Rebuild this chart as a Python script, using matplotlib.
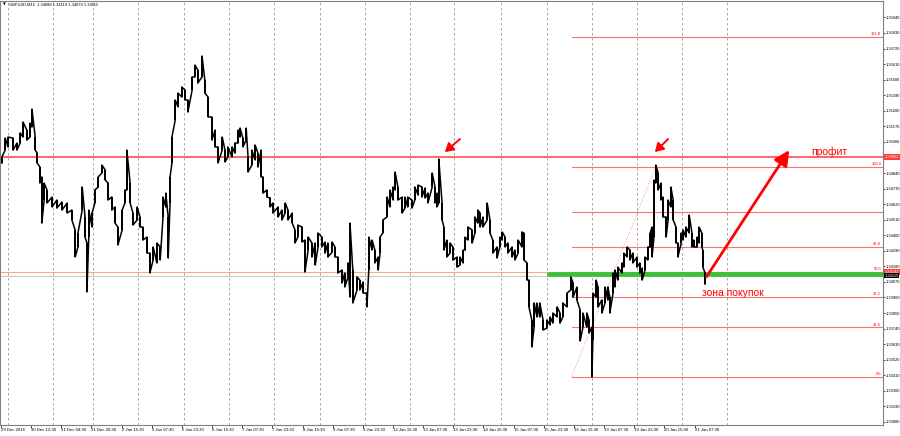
import numpy as np
import matplotlib
matplotlib.use("Agg")
import matplotlib.pyplot as plt
from matplotlib.transforms import blended_transform_factory

# ---- price path (M15 bar index, high, low) ----
bar = [4, 11, 17, 28, 36, 43, 49, 57, 64, 68,
       75, 79, 85, 89, 94, 100, 111, 121, 132, 143,
       153, 160, 166, 175, 181, 185, 189, 196, 202, 209,
       217, 224, 230, 238, 245, 251, 260, 266, 270, 277,
       283, 292, 298, 304, 313, 319, 326, 334, 341, 347,
       353, 358, 362, 366, 373, 379, 387, 394, 400, 409,
       415, 421, 430, 436, 443, 451, 458, 464, 473, 479,
       485, 494, 500, 507, 511, 517, 524, 528, 536, 543,
       549, 556, 560, 568, 575, 581, 592, 600, 607, 613,
       622, 628, 634, 643, 649, 656, 664, 671, 677, 685,
       692, 698, 707, 713, 719, 728, 734, 741, 745, 751,
       760, 766, 773, 781, 785, 792, 798, 805, 809, 815,
       824, 830, 837, 841, 847, 856, 862, 868, 877, 883,
       890, 898, 905, 911, 920, 926, 930, 934, 941, 945,
       951, 958, 964, 973, 979, 986, 990, 996, 1005, 1011,
       1017, 1022, 1028, 1037, 1043, 1049, 1058, 1064, 1069, 1075,
       1081, 1090, 1096, 1103, 1111, 1115, 1122, 1126, 1132, 1137,
       1143, 1149, 1156, 1164, 1171, 1177, 1186, 1192, 1198, 1207,
       1215, 1220, 1228, 1235, 1241, 1249, 1254, 1260, 1262, 1269,
       1273, 1281, 1288, 1294, 1298, 1305, 1309, 1315, 1324, 1328,
       1335, 1341, 1347, 1356, 1362, 1367, 1373, 1379, 1384, 1388,
       1392, 1396, 1401, 1407, 1411, 1418, 1422, 1428, 1433, 1439,
       1443, 1450, 1454, 1460, 1467, 1473, 1477, 1484, 1488, 1494,
       1496, 1501]

high = [1.34953, 1.35087, 1.35094, 1.35087, 1.35052, 1.35123, 1.35200, 1.35144, 1.35193, 1.35292,
        1.35094, 1.34981, 1.34882, 1.34812, 1.34769, 1.34720, 1.34670, 1.34649, 1.34635, 1.34628,
        1.34578, 1.34437, 1.34416, 1.34741, 1.34529, 1.34345, 1.34578, 1.34557, 1.34720, 1.34812,
        1.34896, 1.34861, 1.34769, 1.34670, 1.34600, 1.34458, 1.34578, 1.34720, 1.35002, 1.34769,
        1.34557, 1.34600, 1.34529, 1.34458, 1.34387, 1.34274, 1.34317, 1.34345, 1.34317, 1.34670,
        1.34698, 1.34529, 1.34812, 1.35094, 1.35356, 1.35405, 1.35448, 1.35427, 1.35356, 1.35519,
        1.35603, 1.35568, 1.35667, 1.35497, 1.35377, 1.35236, 1.35144, 1.35024, 1.35094, 1.35002,
        1.35024, 1.35024, 1.35052, 1.35144, 1.35158, 1.35087, 1.35158, 1.34953, 1.35002, 1.35038,
        1.34981, 1.35002, 1.34812, 1.34720, 1.34663, 1.34628, 1.34600, 1.34578, 1.34628, 1.34578,
        1.34557, 1.34437, 1.34472, 1.34458, 1.34366, 1.34387, 1.34345, 1.34345, 1.34416, 1.34387,
        1.34352, 1.34345, 1.34352, 1.34317, 1.34246, 1.34154, 1.34133, 1.34204, 1.34486, 1.34154,
        1.34105, 1.34083, 1.34069, 1.33991, 1.34387, 1.34366, 1.34295, 1.34246, 1.34387, 1.34508,
        1.34670, 1.34720, 1.34741, 1.34847, 1.34741, 1.34670, 1.34670, 1.34670, 1.34649, 1.34741,
        1.34755, 1.34741, 1.34734, 1.34698, 1.34840, 1.34741, 1.34698, 1.34939, 1.34628, 1.34458,
        1.34366, 1.34345, 1.34317, 1.34246, 1.34246, 1.34295, 1.34387, 1.34458, 1.34437, 1.34529,
        1.34578, 1.34557, 1.34529, 1.34628, 1.34508, 1.34366, 1.34317, 1.34387, 1.34423, 1.34387,
        1.34345, 1.34317, 1.34295, 1.34366, 1.34423, 1.34416, 1.34204, 1.34083, 1.33801, 1.33921,
        1.33921, 1.33921, 1.33801, 1.33801, 1.33822, 1.33850, 1.33893, 1.33850, 1.33921, 1.33991,
        1.34105, 1.34062, 1.34034, 1.33871, 1.33850, 1.33850, 1.33801, 1.33751, 1.33991, 1.34083,
        1.34034, 1.33942, 1.34034, 1.34034, 1.33963, 1.34133, 1.34154, 1.34175, 1.34204, 1.34274,
        1.34317, 1.34295, 1.34274, 1.34246, 1.34204, 1.34168, 1.34246, 1.34317, 1.34416, 1.34458,
        1.34790, 1.34896, 1.34840, 1.34769, 1.34670, 1.34529, 1.34649, 1.34741, 1.34649, 1.34458,
        1.34345, 1.34416, 1.34437, 1.34458, 1.34543, 1.34416, 1.34366, 1.34387, 1.34458, 1.34416,
        1.34295, 1.34133]

low = [1.34911, 1.35002, 1.35024, 1.35002, 1.35002, 1.35052, 1.35094, 1.35073, 1.35094, 1.35165,
       1.35002, 1.34911, 1.34769, 1.34486, 1.34649, 1.34628, 1.34600, 1.34592, 1.34578, 1.34557,
       1.34508, 1.34246, 1.34317, 1.34578, 1.34387, 1.33999, 1.34387, 1.34458, 1.34628, 1.34741,
       1.34840, 1.34790, 1.34649, 1.34578, 1.34486, 1.34331, 1.34437, 1.34628, 1.34720, 1.34628,
       1.34472, 1.34508, 1.34458, 1.34366, 1.34274, 1.34133, 1.34225, 1.34204, 1.34225, 1.34529,
       1.34600, 1.34239, 1.34628, 1.34911, 1.35215, 1.35307, 1.35377, 1.35356, 1.35271, 1.35427,
       1.35519, 1.35476, 1.35519, 1.35405, 1.35236, 1.35073, 1.35024, 1.34911, 1.35002, 1.34918,
       1.34953, 1.34953, 1.34981, 1.35052, 1.35094, 1.35024, 1.35073, 1.34847, 1.34896, 1.34932,
       1.34882, 1.34812, 1.34698, 1.34670, 1.34600, 1.34557, 1.34529, 1.34508, 1.34557, 1.34508,
       1.34486, 1.34345, 1.34387, 1.34352, 1.34140, 1.34295, 1.34246, 1.34189, 1.34317, 1.34317,
       1.34274, 1.34246, 1.34281, 1.34246, 1.34133, 1.34062, 1.34034, 1.34105, 1.33963, 1.33921,
       1.34013, 1.34013, 1.33991, 1.33893, 1.34154, 1.34295, 1.34204, 1.34154, 1.34274, 1.34416,
       1.34529, 1.34600, 1.34649, 1.34720, 1.34649, 1.34557, 1.34592, 1.34600, 1.34592, 1.34649,
       1.34684, 1.34670, 1.34663, 1.34628, 1.34741, 1.34628, 1.34600, 1.34628, 1.34508, 1.34295,
       1.34246, 1.34274, 1.34225, 1.34175, 1.34189, 1.34204, 1.34295, 1.34366, 1.34345, 1.34416,
       1.34486, 1.34458, 1.34458, 1.34508, 1.34416, 1.34274, 1.34239, 1.34317, 1.34366, 1.34317,
       1.34274, 1.34246, 1.34225, 1.34274, 1.34317, 1.34225, 1.34083, 1.33893, 1.33610, 1.33751,
       1.33822, 1.33822, 1.33730, 1.33744, 1.33765, 1.33779, 1.33822, 1.33779, 1.33822, 1.33893,
       1.34013, 1.33963, 1.33942, 1.33652, 1.33751, 1.33751, 1.33709, 1.33398, 1.33659, 1.33963,
       1.33893, 1.33850, 1.33921, 1.33942, 1.33850, 1.33991, 1.34034, 1.34083, 1.34133, 1.34175,
       1.34246, 1.34225, 1.34204, 1.34175, 1.34133, 1.34083, 1.34154, 1.34225, 1.34317, 1.34246,
       1.34387, 1.34769, 1.34720, 1.34649, 1.34529, 1.34387, 1.34508, 1.34600, 1.34508, 1.34345,
       1.34246, 1.34345, 1.34366, 1.34387, 1.34416, 1.34317, 1.34317, 1.34317, 1.34345, 1.34317,
       1.34175, 1.34055]

# ---- axes annotations ----
day_separators = [17, 113, 198, 294, 392, 487, 583, 681, 777, 873, 966,
                  1066, 1164, 1260, 1356, 1452, 1547]
time_labels = ["29 Dec 2016", "30 Dec 12:30", "31 Dec 04:30", "31 Dec 20:30",
               "2 Jan 15:30", "5 Jan 07:30", "5 Jan 23:30", "6 Jan 15:30",
               "7 Jan 07:30", "7 Jan 23:30", "8 Jan 15:30", "9 Jan 07:30",
               "9 Jan 23:30", "12 Jan 15:30", "13 Jan 07:30", "13 Jan 23:30",
               "14 Jan 15:30", "15 Jan 07:30", "15 Jan 23:30", "16 Jan 15:30",
               "19 Jan 07:30", "19 Jan 23:30", "20 Jan 15:30", "21 Jan 07:30"]
price_ticks = [1.33080, 1.33190, 1.33300, 1.33410, 1.33520, 1.33630, 1.33740,
               1.33850, 1.33960, 1.34070, 1.34180, 1.34290, 1.34400, 1.34510,
               1.34620, 1.34730, 1.34840, 1.34950, 1.35060, 1.35170, 1.35280,
               1.35390, 1.35500, 1.35610, 1.35720, 1.35830, 1.35940]

title_text = "GBPUSD,M15  1.34088 1.34119 1.34079 1.34115"

# horizontal levels
resistance = 1.34952
ask_price = 1.34142
bid_price = 1.34115
buy_zone = 1.34127
buy_zone_start = 1164

# Fibonacci
fib_bars = [1217, 1396]
fib_prices = [1.33400, 1.34884]
fib_levels = [0.0, 23.6, 38.2, 50.0, 61.8, 78.6, 100.0, 161.8]
fib_texts = ["0.0", "23.6", "38.2", "50.0", "61.8", "", "100.0", "161.8"]

# arrows (tail -> tip) and texts
big_arrow = [(1504, 1.34107), (1680, 1.35002)]
small_arrows = [[(979, 1.35080), (947, 1.34988)],
                [(1422, 1.35080), (1394, 1.34988)]]
profit_pos = (1726, 1.34990)
zone_pos = (1494, 1.33989)

# ---------------- drawing ----------------
SMALL = ["Liberation Sans", "DejaVu Sans"]
W, H = 900, 436
fig = plt.figure(figsize=(W / 100, H / 100), dpi=100, facecolor="white")
ax = fig.add_axes([0.0, 1 - 424.5 / H, 883 / W, 423.5 / H])
ax.set_facecolor("white")
XMAX = 1879.6
ax.set_xlim(0, XMAX)
ax.set_ylim(1.33062, 1.36056)

RED = "#ff0000"
FIBC = "#ff7070"

for s in day_separators:
    ax.axvline(s, color="#999999", lw=0.6, ls=(0, (3, 3)), zorder=1)

ax.axhline(resistance, color="#ff3c3c", lw=1.1, zorder=2)
ax.axhline(ask_price, color="#ffa585", lw=0.8, zorder=2)
ax.axhline(bid_price, color="#c8c8c8", lw=0.8, zorder=2)

# fib levels
f0, f1 = fib_prices
for lv, tx in zip(fib_levels, fib_texts):
    p = f0 + (f1 - f0) * lv / 100.0
    ax.plot([fib_bars[0], XMAX], [p, p], color=FIBC, lw=0.8, zorder=2)
    if tx:
        ax.text(XMAX - 4, p + 0.00004, tx, color=RED, fontsize=2.9,
                family=SMALL, ha="right", va="bottom", zorder=6)
ax.plot(fib_bars, fib_prices, color=FIBC, lw=0.6, ls=(0, (1, 2)), zorder=2)

# green buy zone line
ax.plot([buy_zone_start, XMAX], [buy_zone, buy_zone], color="#33c433",
        lw=3.3, solid_capstyle="butt", zorder=3)

# price bars
ax.vlines(bar, low, high, color="black", lw=1.4, zorder=4)
px, py = [], []
prev = None
for b, h, l in zip(bar, high, low):
    mid = (h + l) / 2
    if prev is None or mid >= prev:
        px += [b, b]; py += [l, h]
    else:
        px += [b, b]; py += [h, l]
    prev = mid
ax.plot(px, py, color="black", lw=1.1, zorder=4)

# arrows
(tx0, ty0), (tx1, ty1) = big_arrow
ax.annotate("", xy=(tx1, ty1), xytext=(tx0, ty0),
            arrowprops=dict(arrowstyle="-|>,head_length=0.9,head_width=0.45",
                            color=RED, lw=2.0, shrinkA=0, shrinkB=0), zorder=7)
for (a0, a1) in small_arrows:
    ax.annotate("", xy=a1, xytext=a0,
                arrowprops=dict(arrowstyle="-|>,head_length=0.5,head_width=0.3",
                                color=RED, lw=1.4, shrinkA=0, shrinkB=0), zorder=7)

ax.text(profit_pos[0], profit_pos[1], "профит", color=RED, fontsize=7.5,
        family=SMALL, ha="left", va="center", zorder=7)
ax.text(zone_pos[0], zone_pos[1], "зона покупок", color=RED, fontsize=7.5,
        family=SMALL, ha="left", va="center", zorder=7)

# axes styling
for sp in ax.spines.values():
    sp.set_color("#808080")
    sp.set_linewidth(0.8)
ax.yaxis.tick_right()
ax.set_yticks(price_ticks)
ax.set_yticklabels([f"{v:.5f}" for v in price_ticks], family=SMALL)
ax.tick_params(axis="y", labelsize=2.9, length=1.5, width=0.5, pad=0.4,
               colors="black")
xt = [2 + 64.2 * i for i in range(len(time_labels))]
ax.set_xticks(xt)
ax.set_xticklabels(time_labels, family=SMALL)
ax.tick_params(axis="x", labelsize=3.1, length=2, width=0.5, pad=0.6)
for lbl in ax.get_xticklabels():
    lbl.set_ha("left")

# price label boxes on the axis
tr = blended_transform_factory(ax.transAxes, ax.transData)
for price, fc in [(resistance, "#ff3c3c"), (ask_price, "#ff3c3c"), (bid_price, "black")]:
    ax.text(1.0015, price, f"{price:.5f}", transform=tr, fontsize=2.9,
            family=SMALL, color="white", ha="left", va="center", clip_on=False,
            zorder=8, bbox=dict(boxstyle="square,pad=0.2", fc=fc, ec="none"))

# title
fig.text(3 / W, 1 - 4.5 / H, "▼", fontsize=2.6, color="black", va="center")
fig.text(9 / W, 1 - 4.5 / H, title_text, fontsize=2.9, family=SMALL,
         color="black", va="center")

fig.savefig("out.png", dpi=100, facecolor="white")
